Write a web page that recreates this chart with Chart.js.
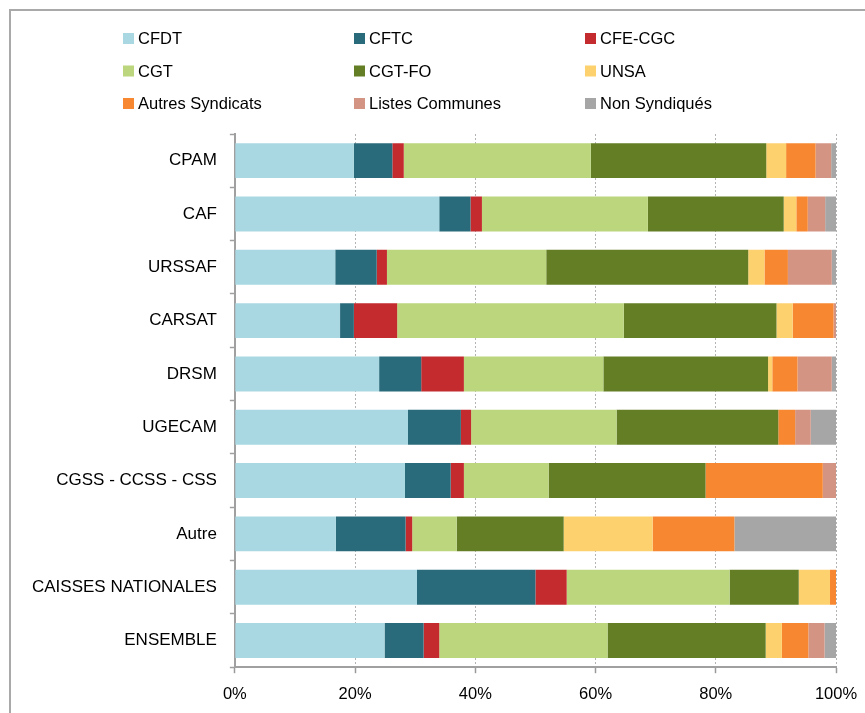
<!DOCTYPE html>
<html>
<head>
<meta charset="utf-8">
<script src="https://cdn.jsdelivr.net/npm/chart.js@4/dist/chart.umd.min.js"></script>
<style>
    html, body { margin: 0; padding: 0; background: #fff; }
    #wrap { position: relative; width: 865px; height: 713px; overflow: hidden; }
    #frame { position: absolute; left: 9px; top: 9px; width: 900px; height: 800px; border: 2px solid #a9a9a9; }
    #chart { position: absolute; left: 0; top: 0; }
</style>
</head>
<body>
<div id="wrap">
    <div id="frame"></div>
    <canvas id="chart" width="865" height="713"></canvas>
</div>
<script>
// Categories (top to bottom) and share of each union, in %
const categories = ['CPAM', 'CAF', 'URSSAF', 'CARSAT', 'DRSM', 'UGECAM', 'CGSS - CCSS - CSS', 'Autre', 'CAISSES NATIONALES', 'ENSEMBLE'];

const cfdt    = [19.8, 34.0, 16.7, 17.5, 24.0, 28.8, 28.3, 16.8, 30.3, 24.9];
const cftc    = [6.4, 5.2, 6.9, 2.3, 7.0, 8.8, 7.6, 11.6, 19.7, 6.5];
const cfeCgc  = [1.9, 1.9, 1.7, 7.2, 7.1, 1.7, 2.2, 1.1, 5.2, 2.6];
const cgt     = [31.1, 27.6, 26.5, 37.7, 23.2, 24.2, 14.1, 7.4, 27.1, 28.0];
const cgtFo   = [29.2, 22.6, 33.6, 25.4, 27.4, 26.9, 26.1, 17.8, 11.5, 26.3];
const unsa    = [3.3, 2.1, 2.7, 2.7, 0.7, 0, 0, 14.8, 5.2, 2.7];
const autres  = [4.9, 1.9, 3.9, 6.8, 4.2, 2.8, 19.5, 13.6, 1.0, 4.4];
const listes  = [2.6, 2.9, 7.3, 0.4, 5.7, 2.6, 2.2, 0, 0, 2.7];
const nonSynd = [0.8, 1.8, 0.7, 0, 0.7, 4.2, 0, 16.9, 0, 1.9];

const xTicks = [0, 20, 40, 60, 80, 100];

const FONT = '"Liberation Sans", Arial, sans-serif';

// legend drawn as a 3 x 3 grid above the plot
const legendColX = [123, 354, 585];
const legendRowY = [38.5, 71, 103.5];

const gridLegend = {
    id: 'gridLegend',
    afterDraw(chart) {
        const ctx = chart.ctx;
        ctx.save();
        ctx.font = '16.5px ' + FONT;
        ctx.textBaseline = 'middle';
        chart.data.datasets.forEach((ds, i) => {
            const x = legendColX[i % 3];
            const y = legendRowY[Math.floor(i / 3)];
            ctx.fillStyle = ds.backgroundColor;
            ctx.fillRect(x, y - 5.5, 11, 11);
            ctx.fillStyle = '#000';
            ctx.fillText(ds.label, x + 15, y + 1);
        });
        ctx.restore();
    }
};

function series(label, data, color) {
    return { label: label, data: data, backgroundColor: color, borderWidth: 0 };
}

document.addEventListener('DOMContentLoaded', () => {
    const ctx = document.getElementById('chart').getContext('2d');
    new Chart(ctx, {
        type: 'bar',
        data: {
            labels: categories,
            datasets: [
                series('CFDT', cfdt, '#a9d8e2'),
                series('CFTC', cftc, '#2a6b7b'),
                series('CFE-CGC', cfeCgc, '#c32b2f'),
                series('CGT', cgt, '#bbd67d'),
                series('CGT-FO', cgtFo, '#637e25'),
                series('UNSA', unsa, '#fed16f'),
                series('Autres Syndicats', autres, '#f78831'),
                series('Listes Communes', listes, '#d49484'),
                series('Non Syndiqués', nonSynd, '#a6a6a6')
            ]
        },
        options: {
            indexAxis: 'y',
            responsive: false,
            animation: false,
            layout: { padding: { top: 134, right: 29, bottom: -2, left: 19 } },
            datasets: { bar: { categoryPercentage: 0.655, barPercentage: 1 } },
            plugins: {
                legend: { display: false },
                tooltip: { enabled: false }
            },
            scales: {
                x: {
                    stacked: true,
                    min: 0,
                    max: 100,
                    afterBuildTicks: (axis) => { axis.ticks = xTicks.map(v => ({ value: v })); },
                    // let the "100%" label overhang into the right margin
                    afterFit: (axis) => { axis.paddingLeft = 0; axis.paddingRight = 0; },
                    ticks: {
                        callback: (v) => v + '%',
                        color: '#000',
                        padding: 11,
                        maxRotation: 0,
                        font: { family: FONT, size: 16.5 }
                    },
                    grid: {
                        color: '#b4b4b4',
                        lineWidth: 1,
                        tickLength: 6,
                        tickColor: '#999',
                        tickWidth: 1.5
                    },
                    border: { color: '#a0a0a0', width: 2, dash: [2, 2] }
                },
                y: {
                    stacked: true,
                    ticks: {
                        color: '#000',
                        padding: 13,
                        font: { family: FONT, size: 17 }
                    },
                    grid: {
                        drawOnChartArea: false,
                        tickLength: 5,
                        tickColor: '#a0a0a0',
                        tickWidth: 1.5
                    },
                    border: { color: '#a0a0a0', width: 2 }
                }
            }
        },
        plugins: [gridLegend]
    });
});
</script>
</body>
</html>
